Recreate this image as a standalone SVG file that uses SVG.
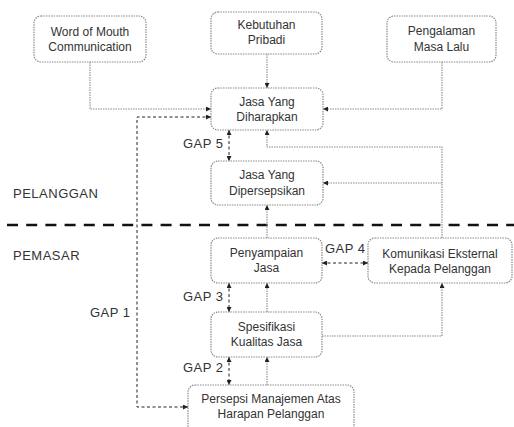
<svg xmlns="http://www.w3.org/2000/svg" width="514" height="427" viewBox="0 0 514 427">
<defs>
<marker id="ah" viewBox="0 0 6 6" refX="6" refY="3" markerWidth="5" markerHeight="5" orient="auto" markerUnits="userSpaceOnUse">
<path d="M0,0 L6,3 L0,6 z" fill="#222"/>
</marker>
<marker id="as" viewBox="0 0 6 6" refX="0" refY="3" markerWidth="5" markerHeight="5" orient="auto" markerUnits="userSpaceOnUse">
<path d="M6,0 L0,3 L6,6 z" fill="#222"/>
</marker>
</defs>
<style>
.box{fill:#fff;stroke:#8a8a8a;stroke-width:1.2;stroke-dasharray:1.5 1}
.t{font-family:"Liberation Sans",Arial,sans-serif;font-size:12px;fill:#333;text-anchor:middle}
.lab{font-family:"Liberation Sans",Arial,sans-serif;font-size:13px;fill:#333;letter-spacing:0.5px}
.con{fill:none;stroke:#8a8a8a;stroke-width:1.1;stroke-dasharray:1.5 1}
.gap{fill:none;stroke:#222;stroke-width:1;stroke-dasharray:3 2.5}
.div{fill:none;stroke:#111;stroke-width:2.6;stroke-dasharray:11 8.2}
</style>
<rect width="514" height="427" fill="#fff"/>
<line class="div" x1="7" y1="225" x2="514" y2="225"/>
<text class="lab" x="13" y="198">PELANGGAN</text>
<text class="lab" x="13" y="260">PEMASAR</text>
<g id="connectors">
<polyline class="con" points="90,62 90,109 211,109" marker-end="url(#ah)"/>
<line class="con" x1="267" y1="54" x2="267" y2="88" marker-end="url(#ah)"/>
<polyline class="con" points="442,62 442,109 323,109" marker-end="url(#ah)"/>
<polyline class="con" points="442,238 442,147 267,147 267,130" marker-end="url(#ah)"/>
<line class="con" x1="442" y1="183" x2="323" y2="183" marker-end="url(#ah)"/>
<line class="con" x1="267" y1="238" x2="267" y2="205" marker-end="url(#ah)"/>
<line class="con" x1="267" y1="312" x2="267" y2="283" marker-end="url(#ah)"/>
<polyline class="con" points="322,336 442,336 442,283" marker-end="url(#ah)"/>
<line class="con" x1="267" y1="385" x2="267" y2="357" marker-end="url(#ah)"/>
<line class="gap" x1="229" y1="130" x2="229" y2="161" marker-start="url(#as)" marker-end="url(#ah)"/>
<line class="gap" x1="322" y1="263" x2="368" y2="263" marker-start="url(#as)" marker-end="url(#ah)"/>
<line class="gap" x1="229" y1="283" x2="229" y2="312" marker-start="url(#as)" marker-end="url(#ah)"/>
<line class="gap" x1="229" y1="357" x2="229" y2="385" marker-start="url(#as)" marker-end="url(#ah)"/>
<polyline class="gap" points="211,117 137,117 137,407 188,407" marker-start="url(#as)" marker-end="url(#ah)"/>
<text class="lab" x="183" y="148">GAP 5</text>
<text class="lab" x="325" y="253">GAP 4</text>
<text class="lab" x="183" y="301">GAP 3</text>
<text class="lab" x="183" y="372">GAP 2</text>
<text class="lab" x="90" y="317">GAP 1</text>
</g>
<g id="word-of-mouth">
<rect class="box" x="34" y="16" width="112" height="46" rx="7"/>
<text class="t" x="90" y="36">Word of Mouth</text>
<text class="t" x="90" y="51">Communication</text>
</g>
<g id="kebutuhan">
<rect class="box" x="211" y="12" width="111" height="42" rx="7"/>
<text class="t" x="266.5" y="29">Kebutuhan</text>
<text class="t" x="266.5" y="44">Pribadi</text>
</g>
<g id="pengalaman">
<rect class="box" x="387" y="16" width="109" height="46" rx="7"/>
<text class="t" x="441.5" y="35">Pengalaman</text>
<text class="t" x="441.5" y="51">Masa Lalu</text>
</g>
<g id="jasa-diharapkan">
<rect class="box" x="211" y="88" width="112" height="42" rx="7"/>
<text class="t" x="267" y="106">Jasa Yang</text>
<text class="t" x="267" y="121">Diharapkan</text>
</g>
<g id="jasa-dipersepsikan">
<rect class="box" x="211" y="161" width="112" height="44" rx="7"/>
<text class="t" x="267" y="179">Jasa Yang</text>
<text class="t" x="267" y="195">Dipersepsikan</text>
</g>
<g id="penyampaian">
<rect class="box" x="211" y="238" width="111" height="45" rx="7"/>
<text class="t" x="266.5" y="257">Penyampaian</text>
<text class="t" x="266.5" y="272">Jasa</text>
</g>
<g id="komunikasi">
<rect class="box" x="368" y="238" width="144" height="45" rx="7"/>
<text class="t" x="440" y="258">Komunikasi Eksternal</text>
<text class="t" x="440" y="273">Kepada Pelanggan</text>
</g>
<g id="spesifikasi">
<rect class="box" x="211" y="312" width="111" height="45" rx="7"/>
<text class="t" x="266.5" y="331">Spesifikasi</text>
<text class="t" x="266.5" y="346">Kualitas Jasa</text>
</g>
<g id="persepsi">
<rect class="box" x="188" y="385" width="166" height="48" rx="7"/>
<text class="t" x="271" y="403">Persepsi Manajemen Atas</text>
<text class="t" x="271" y="418">Harapan Pelanggan</text>
</g>
</svg>
